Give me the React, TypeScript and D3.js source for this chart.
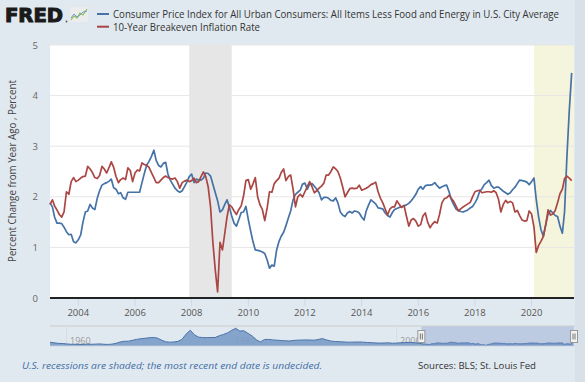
import React from "react";
import * as d3 from "d3";

const W = 585;
const H = 382;

// Monthly data, Jan 2003 .. Jun 2021
const startMonth = new Date(2003, 0, 1);
const coreCPI: number[] = [
  1.88,1.80,1.60,1.48,1.48,1.47,1.40,1.31,1.25,1.26,1.11,1.09,
  1.15,1.25,1.50,1.70,1.72,1.85,1.78,1.75,1.97,2.12,2.23,2.26,
  2.28,2.31,2.35,2.18,2.15,2.06,2.08,1.98,1.95,2.09,2.09,2.09,
  2.09,2.09,2.09,2.28,2.46,2.63,2.70,2.80,2.92,2.72,2.62,2.59,
  2.66,2.68,2.45,2.33,2.25,2.17,2.12,2.09,2.12,2.20,2.29,2.40,
  2.45,2.28,2.35,2.33,2.33,2.37,2.47,2.46,2.41,2.25,2.08,1.92,
  1.70,1.74,1.84,1.94,1.80,1.62,1.48,1.42,1.55,1.69,1.70,1.81,
  1.55,1.32,1.12,0.95,0.94,0.93,0.91,0.88,0.75,0.59,0.65,0.63,
  0.95,1.12,1.22,1.30,1.43,1.58,1.72,1.94,2.05,2.09,2.13,2.25,
  2.27,2.15,2.25,2.26,2.21,2.15,2.08,1.94,1.99,1.99,1.97,1.93,
  1.92,1.98,1.88,1.70,1.64,1.61,1.68,1.71,1.68,1.72,1.71,1.68,
  1.60,1.54,1.72,1.84,1.94,1.90,1.86,1.78,1.77,1.76,1.68,1.63,
  1.60,1.69,1.75,1.77,1.79,1.80,1.82,1.84,1.87,1.92,1.98,2.05,
  2.15,2.20,2.15,2.22,2.23,2.23,2.24,2.28,2.22,2.17,2.20,2.22,
  2.23,2.10,1.95,1.85,1.76,1.73,1.71,1.70,1.72,1.74,1.78,1.81,
  1.88,1.97,2.10,2.16,2.24,2.28,2.33,2.22,2.17,2.19,2.19,2.15,
  2.11,2.08,2.05,2.08,2.14,2.19,2.26,2.33,2.32,2.31,2.29,2.24,
  2.30,2.37,1.95,1.60,1.35,1.22,1.45,1.66,1.73,1.68,1.63,1.61,
  1.42,1.28,1.70,2.80,3.70,4.45,
];
const breakeven: number[] = [
  1.85,1.94,1.82,1.74,1.65,1.60,1.70,2.10,2.05,2.30,2.38,2.30,
  2.33,2.37,2.40,2.41,2.60,2.55,2.48,2.38,2.36,2.42,2.60,2.55,
  2.47,2.58,2.69,2.58,2.40,2.28,2.34,2.37,2.34,2.57,2.52,2.30,
  2.47,2.53,2.51,2.67,2.64,2.62,2.58,2.48,2.38,2.28,2.28,2.33,
  2.38,2.41,2.38,2.36,2.35,2.37,2.30,2.17,2.28,2.31,2.33,2.30,
  2.32,2.37,2.28,2.30,2.40,2.49,2.40,2.20,1.80,1.10,0.55,0.12,
  1.10,0.95,1.25,1.60,1.84,1.80,1.72,1.65,1.75,1.82,2.02,2.32,
  2.34,2.15,2.25,2.38,2.00,1.84,1.75,1.53,1.78,2.10,2.09,2.26,
  2.32,2.37,2.48,2.55,2.32,2.40,2.43,2.15,1.80,2.00,2.05,2.00,
  2.10,2.20,2.30,2.20,2.08,2.12,2.17,2.21,2.27,2.43,2.43,2.50,
  2.59,2.55,2.50,2.37,2.20,2.00,2.08,2.16,2.17,2.16,2.17,2.23,
  2.13,2.15,2.17,2.20,2.24,2.26,2.29,2.10,1.97,1.88,1.76,1.64,
  1.76,1.80,1.80,1.92,1.85,1.79,1.83,1.62,1.42,1.54,1.57,1.52,
  1.42,1.45,1.62,1.68,1.50,1.39,1.46,1.51,1.48,1.65,1.88,1.96,
  1.98,2.03,1.97,1.91,1.82,1.72,1.76,1.80,1.83,1.86,1.89,2.00,
  2.10,2.12,2.13,2.08,2.09,2.10,2.10,2.09,2.12,2.08,1.95,1.70,
  1.85,1.93,1.88,1.91,1.88,1.70,1.73,1.63,1.54,1.52,1.53,1.72,
  1.66,1.40,0.90,1.04,1.12,1.22,1.44,1.74,1.64,1.66,1.73,1.88,
  2.06,2.15,2.36,2.41,2.37,2.32,
];

// Navigator history (core CPI, half-yearly 1958..2002.5)
const navStartYear = 1958;
const navHistory: number[] = [
  2.8,2.4,2.0,1.9,1.6,1.3,1.3,1.2,1.2,1.4,1.3,1.4,1.6,1.3,1.2,1.4,
  2.0,3.0,3.6,3.6,4.3,5.0,5.5,5.8,6.2,6.4,6.0,4.5,3.2,2.9,3.0,3.5,
  5.0,9.0,11.9,8.5,6.7,6.4,6.3,6.4,6.4,7.7,8.7,9.9,11.7,13.4,11.3,11.5,
  9.5,7.6,4.7,3.1,4.9,5.0,4.6,4.4,4.1,3.9,3.8,4.2,4.4,4.5,4.6,4.5,
  4.4,4.9,5.6,4.6,3.8,3.4,3.3,3.1,2.9,2.9,3.0,3.0,2.9,2.6,2.5,2.3,
  2.2,2.3,2.4,2.1,2.2,2.5,2.6,2.7,2.6,2.2,
];

const yTicks = [0, 1, 2, 3, 4, 5];
const xTickYears = [2004, 2006, 2008, 2010, 2012, 2014, 2016, 2018, 2020];
const navTickYears = [1960, 1980, 2000];
const recessions: [Date, Date | null][] = [
  [new Date(2007, 11, 1), new Date(2009, 5, 1)],
  [new Date(2020, 1, 1), null],
];

const seriesNames = [
  "Consumer Price Index for All Urban Consumers: All Items Less Food and Energy in U.S. City Average",
  "10-Year Breakeven Inflation Rate",
];
const colors = ["#4572a7", "#aa4643"];

const BG = "#e1e9f0";
const FONT = "'Open Sans', 'DejaVu Sans', sans-serif";

export default function App() {
  const months = coreCPI.map((_, i) => d3.timeMonth.offset(startMonth, i));
  const x = d3.scaleTime().domain([new Date(2003, 0, 1), new Date(2021, 6, 1)]).range([50, 574]);
  const y = d3.scaleLinear().domain([0, 5]).range([298, 45]);

  const line = d3
    .line<number>()
    .x((_, i) => x(months[i]))
    .y((d) => y(d));

  // navigator
  const navDates: Date[] = [];
  const navVals: number[] = [];
  navHistory.forEach((v, i) => {
    navDates.push(d3.timeMonth.offset(new Date(navStartYear, 0, 1), i * 6));
    navVals.push(v);
  });
  coreCPI.forEach((v, i) => {
    navDates.push(months[i]);
    navVals.push(v);
  });
  const nx = d3.scaleTime().domain([new Date(1958, 0, 1), new Date(2021, 6, 1)]).range([50, 574]);
  const ny = d3.scaleLinear().domain([0, 13.6]).range([346, 328]);
  const navArea = d3
    .area<number>()
    .x((_, i) => nx(navDates[i]))
    .y0(346)
    .y1((d) => ny(d));
  const navLine = d3
    .line<number>()
    .x((_, i) => nx(navDates[i]))
    .y((d) => ny(d));

  const selX0 = nx(new Date(2003, 0, 1));
  const selX1 = nx(new Date(2021, 6, 1));

  return (
    <svg
      width={W}
      height={H}
      style={{ position: "absolute", left: 0, top: 0, fontFamily: FONT }}
    >
      <rect x={0} y={0} width={W} height={H} fill={BG} />
      <rect x={575} y={0} width={10} height={H} fill="#d9e1e8" />

      {/* Plot background */}
      <rect x={50} y={45} width={524} height={253} fill="#ffffff" />

      {/* Recessions */}
      {recessions.map(([a, b], i) => (
        <rect
          key={i}
          x={x(a)}
          y={45}
          width={(b ? x(b) : 574) - x(a)}
          height={253}
          fill={b ? "#e6e6e6" : "#f5f4dc"}
        />
      ))}

      {/* Gridlines */}
      {yTicks.slice(1).map((t) => (
        <line key={t} x1={50} x2={574} y1={y(t)} y2={y(t)} stroke="#e6e6e6" strokeWidth={1} />
      ))}

      {/* Series */}
      <path d={line(coreCPI) || ""} fill="none" stroke={colors[0]} strokeWidth={1.7} strokeLinejoin="round" />
      <path d={line(breakeven) || ""} fill="none" stroke={colors[1]} strokeWidth={1.7} strokeLinejoin="round" />

      {/* Axis line */}
      <line x1={50} x2={574} y1={y(0)} y2={y(0)} stroke="#222" strokeWidth={2} />

      {/* X ticks */}
      {xTickYears.map((yr) => {
        const px = x(new Date(yr, 0, 1));
        return (
          <g key={yr}>
            <line x1={px} x2={px} y1={299} y2={306} stroke="#ccd6eb" strokeWidth={1} />
            <text x={px} y={315.5} textAnchor="middle" fontSize={9.5} fill="#555">
              {yr}
            </text>
          </g>
        );
      })}

      {/* Y tick labels */}
      {yTicks.map((t) => (
        <text key={t} x={38} y={y(t) + 3.5} textAnchor="end" fontSize={9.5} fill="#666">
          {t}
        </text>
      ))}

      {/* Y title */}
      <text
        transform="translate(16,171) rotate(-90)"
        textAnchor="middle"
        fontSize={10}
        fill="#444"
        textLength={182}
        lengthAdjust="spacingAndGlyphs"
      >
        Percent Change from Year Ago , Percent
      </text>

      {/* Logo */}
      <text x={5} y={22} fontFamily="'DejaVu Sans', sans-serif" fontWeight="bold" fontSize={19.5} fill="#1a1a1a" stroke="#1a1a1a" strokeWidth={1.1} textLength={58} lengthAdjust="spacingAndGlyphs">
        FRED
      </text>
      <circle cx={66.5} cy={21.5} r={0.9} fill="#555" />
      <rect x={70} y={7} width={18} height={15} fill="#ececec" />
      <polyline points="71,20 74,16 77,18 80,13 83,15 87,9" fill="none" stroke="#8fc24a" strokeWidth={1.2} />
      <polyline points="71,18 74,14 77,17 80,15 83,12 87,11" fill="none" stroke="#6a9bd1" strokeWidth={1} />

      {/* Legend */}
      {seriesNames.map((n, i) => (
        <g key={n}>
          <line x1={97} x2={109} y1={14 + i * 12.7} y2={14 + i * 12.7} stroke={colors[i]} strokeWidth={2} />
          <text
            x={113}
            y={17.8 + i * 12.7}
            fontSize={10.2}
            fill="#333"
            textLength={i === 0 ? 446 : 147}
            lengthAdjust="spacingAndGlyphs"
          >
            {n}
          </text>
        </g>
      ))}

      {/* Navigator */}
      <line x1={50} x2={575} y1={326} y2={326} stroke="#cccccc" strokeWidth={1} />
      {navTickYears.map((yr) => {
        const px = nx(new Date(yr, 0, 1));
        return (
          <g key={yr}>
            <line x1={px} x2={px} y1={326} y2={346} stroke="#d6dde4" strokeWidth={1} />
            <text x={px + 3.5} y={343.5} fontSize={9} fill="#9a9a9a">
              {yr}
            </text>
          </g>
        );
      })}
      <path d={navArea(navVals) || ""} fill="#7a9cc8" fillOpacity={0.9} />
      <path d={navLine(navVals) || ""} fill="none" stroke="#4a73aa" strokeWidth={1} />
      <rect x={selX0} y={326.5} width={selX1 - selX0} height={19.5} fill="rgba(102,133,194,0.3)" />
      <line x1={50} x2={575} y1={346} y2={346} stroke="#c8d2dc" strokeWidth={0.8} />
      {[selX0, selX1].map((hx, i) => (
        <g key={i}>
          <rect x={hx - 3.5} y={330.5} width={7} height={12} fill="#f2f2f2" stroke="#999" strokeWidth={1} />
          <line x1={hx - 1} x2={hx - 1} y1={333.5} y2={339.5} stroke="#555" strokeWidth={0.8} />
          <line x1={hx + 1} x2={hx + 1} y1={333.5} y2={339.5} stroke="#555" strokeWidth={0.8} />
        </g>
      ))}

      {/* Footer */}
      <text x={22} y={369} fontSize={9.8} fontStyle="italic" fill="#3f6da6" textLength={300} lengthAdjust="spacingAndGlyphs">
        U.S. recessions are shaded; the most recent end date is undecided.
      </text>
      <text x={418} y={369} fontSize={9.8} fill="#333" textLength={118} lengthAdjust="spacingAndGlyphs">
        Sources: BLS; St. Louis Fed
      </text>
    </svg>
  );
}
